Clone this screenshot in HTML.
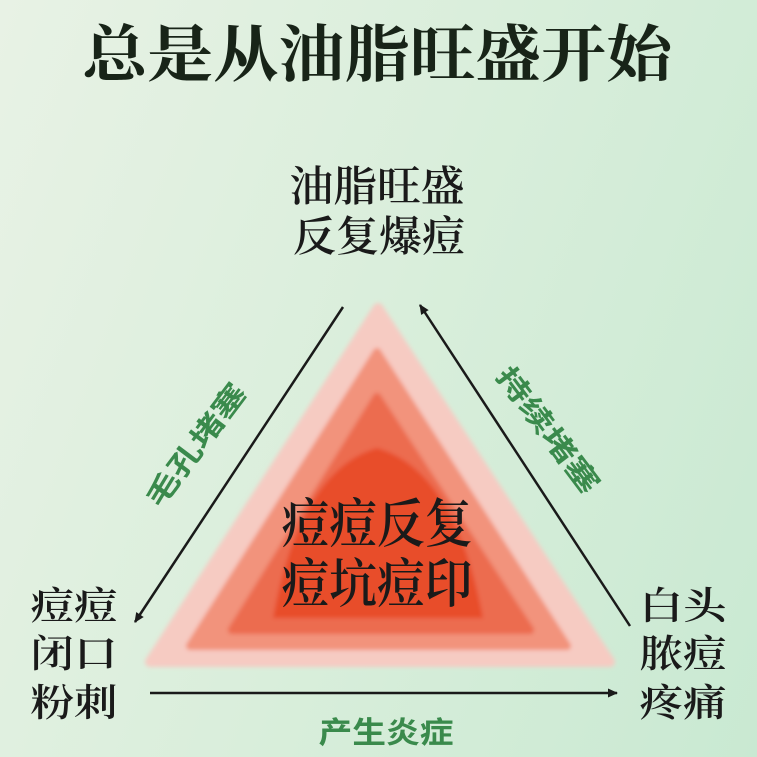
<!DOCTYPE html>
<html><head><meta charset="utf-8"><style>
html,body{margin:0;padding:0;width:757px;height:757px;overflow:hidden}
body{background:linear-gradient(110deg,#e8f2e5 0%,#d9eedb 50%,#c9e9d2 100%)}
svg{display:block}
text{font-family:"Liberation Serif","Noto Serif CJK SC",serif}
</style></head><body>
<svg width="757" height="757" viewBox="0 0 757 757" xmlns="http://www.w3.org/2000/svg">
<defs>
<filter id="bl" x="-20%" y="-20%" width="140%" height="140%"><feGaussianBlur stdDeviation="2"/></filter>
<marker id="ah" markerWidth="12" markerHeight="12" refX="9" refY="6" orient="auto" markerUnits="userSpaceOnUse"><path d="M0,1.5 L10,6 L0,10.5 z" fill="#1a1a1a"/></marker>
</defs>
<g filter="url(#bl)">
<path d="M378,308 L610,662 L150,662 Z" fill="#f6cbc2" stroke="#f6cbc2" stroke-width="10" stroke-linejoin="round"/>
<path d="M377,352 L567,646 L190,646 Z" fill="#f2937c" stroke="#f2937c" stroke-width="8" stroke-linejoin="round"/>
<path d="M377,397 L530,630 L232,630 Z" fill="#ec6c50" stroke="#ec6c50" stroke-width="8" stroke-linejoin="round"/>
<path d="M377,448 Q455,470 483,618 L273,618 Q300,470 377,448 Z" fill="#e84e2c"/>
</g>
<line x1="343" y1="307" x2="135" y2="622" stroke="#1a1a1a" stroke-width="2.5" marker-end="url(#ah)"/>
<line x1="630" y1="626" x2="420" y2="305" stroke="#1a1a1a" stroke-width="2.5" marker-end="url(#ah)"/>
<line x1="150" y1="693" x2="617" y2="693" stroke="#1a1a1a" stroke-width="2.5" marker-end="url(#ah)"/>
<text x="377" y="76" font-size="62" font-weight="bold" text-anchor="middle" textLength="590" lengthAdjust="spacingAndGlyphs" fill="#182418">总是从油脂旺盛开始</text>
<g font-weight="600" fill="#1a1a1a" text-anchor="middle">
<text x="377" y="201" font-size="42" textLength="175" lengthAdjust="spacingAndGlyphs">油脂旺盛</text>
<text x="379" y="251" font-size="42" textLength="172" lengthAdjust="spacingAndGlyphs">反复爆痘</text>
<text x="377" y="542" font-size="53" textLength="191" lengthAdjust="spacingAndGlyphs">痘痘反复</text>
<text x="377" y="602" font-size="53" textLength="191" lengthAdjust="spacingAndGlyphs">痘坑痘印</text>
</g>
<g font-size="38" font-weight="600" fill="#1a1a1a" text-anchor="middle">
<text x="74" y="619" textLength="87" lengthAdjust="spacingAndGlyphs">痘痘</text>
<text x="74" y="667" textLength="87" lengthAdjust="spacingAndGlyphs">闭口</text>
<text x="74" y="716" textLength="87" lengthAdjust="spacingAndGlyphs">粉刺</text>
<text x="683" y="619" textLength="87" lengthAdjust="spacingAndGlyphs">白头</text>
<text x="683" y="667" textLength="87" lengthAdjust="spacingAndGlyphs">脓痘</text>
<text x="683" y="716" textLength="87" lengthAdjust="spacingAndGlyphs">疼痛</text>
</g>
<g fill="#3a8a4c" text-anchor="middle" font-weight="bold">
<text x="386" y="743" font-size="30" textLength="135" lengthAdjust="spacingAndGlyphs" style="font-family:'Liberation Sans','Noto Sans CJK SC',sans-serif">产生炎症</text>
<text transform="translate(196,445) rotate(-53)" x="0" y="10" font-size="28" textLength="146" lengthAdjust="spacingAndGlyphs" style="font-family:'Liberation Sans','Noto Sans CJK SC',sans-serif">毛孔堵塞</text>
<text transform="translate(548,430) rotate(53)" x="0" y="10" font-size="28" textLength="150" lengthAdjust="spacingAndGlyphs" style="font-family:'Liberation Sans','Noto Sans CJK SC',sans-serif">持续堵塞</text>
</g>
</svg>
</body></html>
